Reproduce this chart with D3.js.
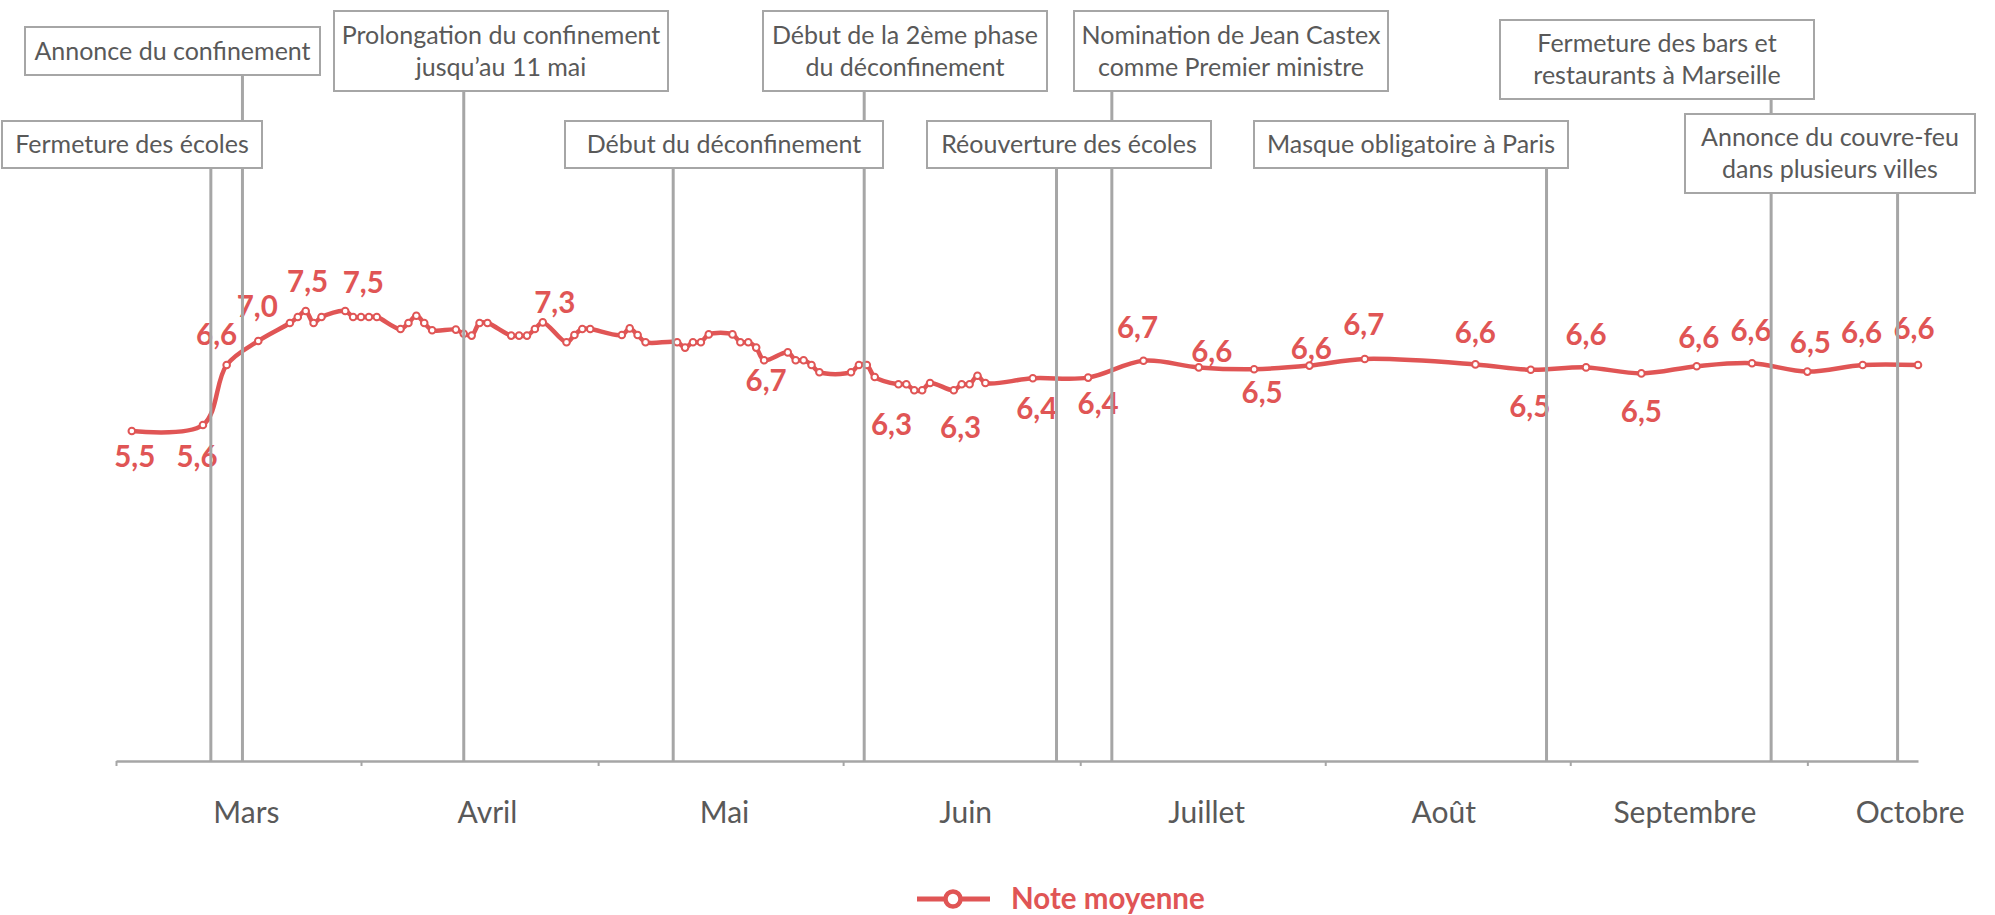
<!DOCTYPE html>
<html>
<head>
<meta charset="utf-8">
<script src="https://cdn.jsdelivr.net/npm/d3@7"></script>
<style>
  body { margin: 0; background: #fff; }
  svg text { font-family: Lato, "Open Sans", sans-serif; }
</style>
</head>
<body>
<div id="chart"></div>
<script>
// daily / weekly average score
const dates = ["2020-03-03","2020-03-12","2020-03-15","2020-03-19","2020-03-23","2020-03-24","2020-03-25","2020-03-26","2020-03-27","2020-03-30","2020-03-31",
  "2020-04-01","2020-04-02","2020-04-03","2020-04-06","2020-04-07","2020-04-08","2020-04-09","2020-04-10","2020-04-13","2020-04-14","2020-04-15","2020-04-16","2020-04-17","2020-04-20","2020-04-21","2020-04-22","2020-04-23","2020-04-24","2020-04-27","2020-04-28","2020-04-29","2020-04-30",
  "2020-05-04","2020-05-05","2020-05-06","2020-05-07","2020-05-11","2020-05-12","2020-05-13","2020-05-14","2020-05-15","2020-05-18","2020-05-19","2020-05-20","2020-05-21","2020-05-22","2020-05-25","2020-05-26","2020-05-27","2020-05-28","2020-05-29",
  "2020-06-02","2020-06-03","2020-06-04","2020-06-05","2020-06-08","2020-06-09","2020-06-10","2020-06-11","2020-06-12","2020-06-15","2020-06-16","2020-06-17","2020-06-18","2020-06-19","2020-06-25",
  "2020-07-02","2020-07-09","2020-07-16","2020-07-23","2020-07-30","2020-08-06","2020-08-20","2020-08-27","2020-09-03","2020-09-10","2020-09-17","2020-09-24","2020-10-01","2020-10-08","2020-10-15"]
const notes = [5.5,5.6,6.6,7.0,7.3,7.4,7.5,7.3,7.4,7.5,7.4,
  7.4,7.4,7.4,7.2,7.3,7.42,7.3,7.18,7.19,7.12,7.09,7.3,7.3,7.09,7.09,7.09,7.2,7.31,6.98,7.1,7.2,7.2,
  7.1,7.21,7.1,6.98,6.98,6.89,6.98,6.98,7.11,7.11,6.98,6.98,6.89,6.68,6.81,6.68,6.68,6.6,6.48,
  6.48,6.6,6.6,6.4,6.28,6.28,6.18,6.18,6.3,6.18,6.28,6.28,6.42,6.3,6.38,
  6.39,6.67,6.56,6.53,6.59,6.7,6.61,6.52,6.56,6.46,6.58,6.63,6.49,6.6,6.6]

// points that carry a value label
const labelDates = ["2020-03-03","2020-03-12","2020-03-15","2020-03-19","2020-03-25","2020-03-30","2020-04-24","2020-05-22","2020-06-08","2020-06-16","2020-06-25",
  "2020-07-02","2020-07-09","2020-07-16","2020-07-23","2020-07-30","2020-08-06","2020-08-20","2020-08-27","2020-09-03","2020-09-10","2020-09-17","2020-09-24","2020-10-01","2020-10-08","2020-10-15"]

const monthNames = ["Mars","Avril","Mai","Juin","Juillet","Août","Septembre","Octobre"]
const monthLabelDates = ["2020-03-17 12","2020-04-17 00","2020-05-17 00","2020-06-16 12","2020-07-17 00","2020-08-16 00","2020-09-15 12","2020-10-14 00"]

const eventDates = ["2020-03-13 00","2020-03-17 00","2020-04-14 00","2020-05-10 12","2020-06-03 16","2020-06-28 00","2020-07-05 00","2020-08-29 00","2020-09-26 10","2020-10-12 10"]
const eventTexts = [
  ["Fermeture des écoles"],
  ["Annonce du confinement"],
  ["Prolongation du confinement", "jusqu’au 11 mai"],
  ["Début du déconfinement"],
  ["Début de la 2ème phase", "du déconfinement"],
  ["Réouverture des écoles"],
  ["Nomination de Jean Castex", "comme Premier ministre"],
  ["Masque obligatoire à Paris"],
  ["Fermeture des bars et", "restaurants à Marseille"],
  ["Annonce du couvre-feu", "dans plusieurs villes"]
]

// layout: box rectangles [x, y, w, h] and label nudges [dx, dy]
const eventBoxes = [[2,121,260,47],[25,27,295,48],[334,11,334,80],[565,121,318,47],[763,11,284,80],
  [927,121,284,47],[1074,11,314,80],[1254,121,314,47],[1500,20,314,79],[1685,114,290,79]]
const labelNudge = [[3,26],[-6,32],[-10,-30],[-1,-34],[2,-29],[18,-28],[12,-20],[2,20],[-7,40],[-1,43],[4,30],
  [10,26],[-6,-33],[13,-16],[8,23],[2,-17],[-1,-34],[0,-32],[-1,37],[0,-33],[0,38],[2,-29],[-1,-33],[3,-29],[-1,-32],[-4,-36]]

const red = "#E05555"
const grey = "#A6A6A6"
const textGrey = "#595959"

let margin = { top: 161, right: 77, bottom: 154, left: 116 }
let width = 1995 - margin.left - margin.right
let height = 915 - margin.top - margin.bottom

const parseDay = d3.timeParse("%Y-%m-%d")
const parseHour = d3.timeParse("%Y-%m-%d %H")

const data = dates.map((d, i) => ({ date: parseDay(d), note: notes[i] }))
const fmt = v => d3.format(".1f")(v).replace(".", ",")

const svg = d3.select("#chart")
    .append("svg")
    .attr("width", 1995)
    .attr("height", 915)

const g = svg.append("g")
    .attr("transform", "translate(" + margin.left + "," + margin.top + ")")

var x = d3.scaleTime()
    .domain([parseDay("2020-03-01"), parseDay("2020-10-15")])
    .range([0, width])

var y = d3.scaleLinear()
    .domain([0, 10])
    .range([height, 0])

// X axis
const xAxis = g.append("g")
    .attr("transform", "translate(0," + height + ")")
    .call(d3.axisBottom(x)
        .ticks(d3.timeMonth.every(1))
        .tickSize(5)
        .tickSizeOuter(0)
        .tickFormat(""))
xAxis.select(".domain").attr("stroke", grey).attr("stroke-width", 2.5)
xAxis.selectAll(".tick line").attr("stroke", grey).attr("stroke-width", 2)

g.append("g")
    .selectAll("text")
    .data(monthNames)
    .enter()
    .append("text")
    .attr("x", (d, i) => x(parseHour(monthLabelDates[i])))
    .attr("y", height + 51)
    .attr("dy", "0.35em")
    .attr("text-anchor", "middle")
    .attr("font-size", 30)
    .attr("fill", textGrey)
    .text(d => d)

// the line
const line = d3.line()
    .x(d => x(d.date))
    .y(d => y(d.note))
    .curve(d3.curveCatmullRom.alpha(0.5))

g.append("path")
    .datum(data)
    .attr("fill", "none")
    .attr("stroke", red)
    .attr("stroke-width", 4.5)
    .attr("stroke-linejoin", "round")
    .attr("d", line)

g.append("g")
    .selectAll("circle")
    .data(data)
    .enter()
    .append("circle")
    .attr("cx", d => x(d.date))
    .attr("cy", d => y(d.note))
    .attr("r", 3.3)
    .attr("fill", "#fff")
    .attr("stroke", red)
    .attr("stroke-width", 2)

// value labels
const labelled = labelDates.map(s => data.find(d => +d.date === +parseDay(s)))
g.append("g")
    .selectAll("text")
    .data(labelled)
    .enter()
    .append("text")
    .attr("x", (d, i) => x(d.date) + labelNudge[i][0])
    .attr("y", (d, i) => y(d.note) + labelNudge[i][1])
    .attr("dy", "0.35em")
    .attr("text-anchor", "middle")
    .attr("font-size", 29.5)
    .attr("font-weight", "bold")
    .attr("fill", red)
    .text(d => fmt(d.note))

// event markers
svg.append("g")
    .selectAll("line")
    .data(eventDates)
    .enter()
    .append("line")
    .attr("x1", d => margin.left + x(parseHour(d)))
    .attr("x2", d => margin.left + x(parseHour(d)))
    .attr("y1", (d, i) => eventBoxes[i][1] + eventBoxes[i][3])
    .attr("y2", margin.top + height + 1)
    .attr("stroke", grey)
    .attr("stroke-width", 3)

const boxes = svg.append("g")
    .selectAll("g")
    .data(eventTexts)
    .enter()
    .append("g")

boxes.append("rect")
    .attr("x", (d, i) => eventBoxes[i][0])
    .attr("y", (d, i) => eventBoxes[i][1])
    .attr("width", (d, i) => eventBoxes[i][2])
    .attr("height", (d, i) => eventBoxes[i][3])
    .attr("fill", "#fff")
    .attr("stroke", grey)
    .attr("stroke-width", 2)

boxes.each(function (lines, i) {
    const b = eventBoxes[i]
    const cy = b[1] + b[3] / 2
    d3.select(this).selectAll("text")
        .data(lines)
        .enter()
        .append("text")
        .attr("x", b[0] + b[2] / 2)
        .attr("y", (t, j) => cy + (j - (lines.length - 1) / 2) * 31.7)
        .attr("dy", "0.35em")
        .attr("text-anchor", "middle")
        .attr("font-size", 25)
        .attr("fill", textGrey)
        .text(t => t)
})

// legend
const legend = svg.append("g")
    .attr("transform", "translate(917,899)")
legend.append("line")
    .attr("x1", 0).attr("x2", 73)
    .attr("stroke", red)
    .attr("stroke-width", 5)
legend.append("circle")
    .attr("cx", 36)
    .attr("r", 7.5)
    .attr("fill", "#fff")
    .attr("stroke", red)
    .attr("stroke-width", 4.5)
legend.append("text")
    .attr("x", 94)
    .attr("dy", "0.35em")
    .attr("font-size", 29.5)
    .attr("font-weight", "bold")
    .attr("fill", red)
    .text("Note moyenne")
</script>
</body>
</html>
